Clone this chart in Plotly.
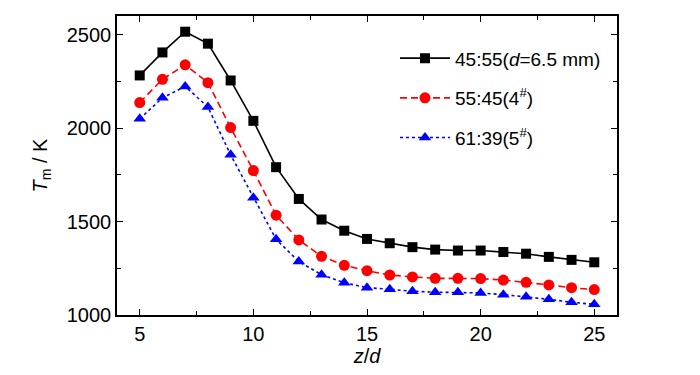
import plotly.graph_objects as go

z = list(range(5, 26))
t_45_55 = [2282, 2405, 2516, 2452, 2255, 2039, 1791, 1621, 1511, 1451, 1407, 1384, 1363, 1350, 1345, 1345, 1337, 1328, 1311, 1295, 1282]
t_55_45 = [2137, 2261, 2339, 2243, 2003, 1773, 1534, 1402, 1314, 1266, 1237, 1214, 1204, 1196, 1196, 1195, 1187, 1175, 1161, 1146, 1136]
t_61_39 = [2050, 2162, 2223, 2113, 1857, 1628, 1405, 1286, 1216, 1173, 1146, 1138, 1127, 1122, 1122, 1118, 1109, 1098, 1084, 1068, 1057]

names = ["45:55(<i>d</i>=6.5 mm)", "55:45(4<sup>#</sup>)", "61:39(5<sup>#</sup>)"]
series = [t_45_55, t_55_45, t_61_39]
colors = ["#000000", "#ff0000", "#0000ff"]
symbols = ["square", "circle", "triangle-up"]
dashes = ["solid", "7px,4px", "3px,3px"]
sizes = [10, 11, 11]

font = "Arial, Liberation Sans, sans-serif"
fig = go.Figure()
for i, (name, ys, c, s, d, sz) in enumerate(zip(names, series, colors, symbols, dashes, sizes)):
    fig.add_trace(go.Scatter(x=z, y=ys, name=name, mode="lines+markers", legendgroup=f"g{i}",
                             line=dict(color=c, width=1.6, dash=d),
                             marker=dict(symbol=s, size=sz, color=c)))

axis_common = dict(showline=True, linecolor="black", linewidth=1.5, mirror="ticks",
                   ticks="inside", ticklen=6, tickwidth=1.2, tickcolor="black",
                   showgrid=False, zeroline=False, automargin=False,
                   tickfont=dict(family=font, size=20, color="black"))
fig.update_xaxes(range=[4, 26], tickvals=[5, 10, 15, 20, 25],
                 minor=dict(ticks="inside", ticklen=4, tickwidth=1.2, dtick=2.5, tick0=2.5, tickcolor="black"),
                 title=dict(text="<i>z</i>/<i>d</i>", font=dict(family=font, size=20, color="black"), standoff=4),
                 **axis_common)
fig.update_yaxes(range=[1000, 2600], tickvals=[1000, 1500, 2000, 2500],
                 minor=dict(ticks="inside", ticklen=4, tickwidth=1.2, dtick=250, tick0=0, tickcolor="black"),
                 title=dict(text="<i>T</i><sub>m</sub> / K", font=dict(family=font, size=20, color="black"), standoff=14),
                 **axis_common)
fig.update_layout(width=692, height=367, margin=dict(l=109, r=83, t=8, b=60),
                  plot_bgcolor="white", paper_bgcolor="white",
                  font=dict(family=font, color="black"),
                  legend=dict(x=0.556, y=0.922, xanchor="left", yanchor="top",
                              bgcolor="rgba(0,0,0,0)", font=dict(family=font, size=19, color="black"),
                              tracegroupgap=12, itemwidth=50))
fig.write_html("out.html")
